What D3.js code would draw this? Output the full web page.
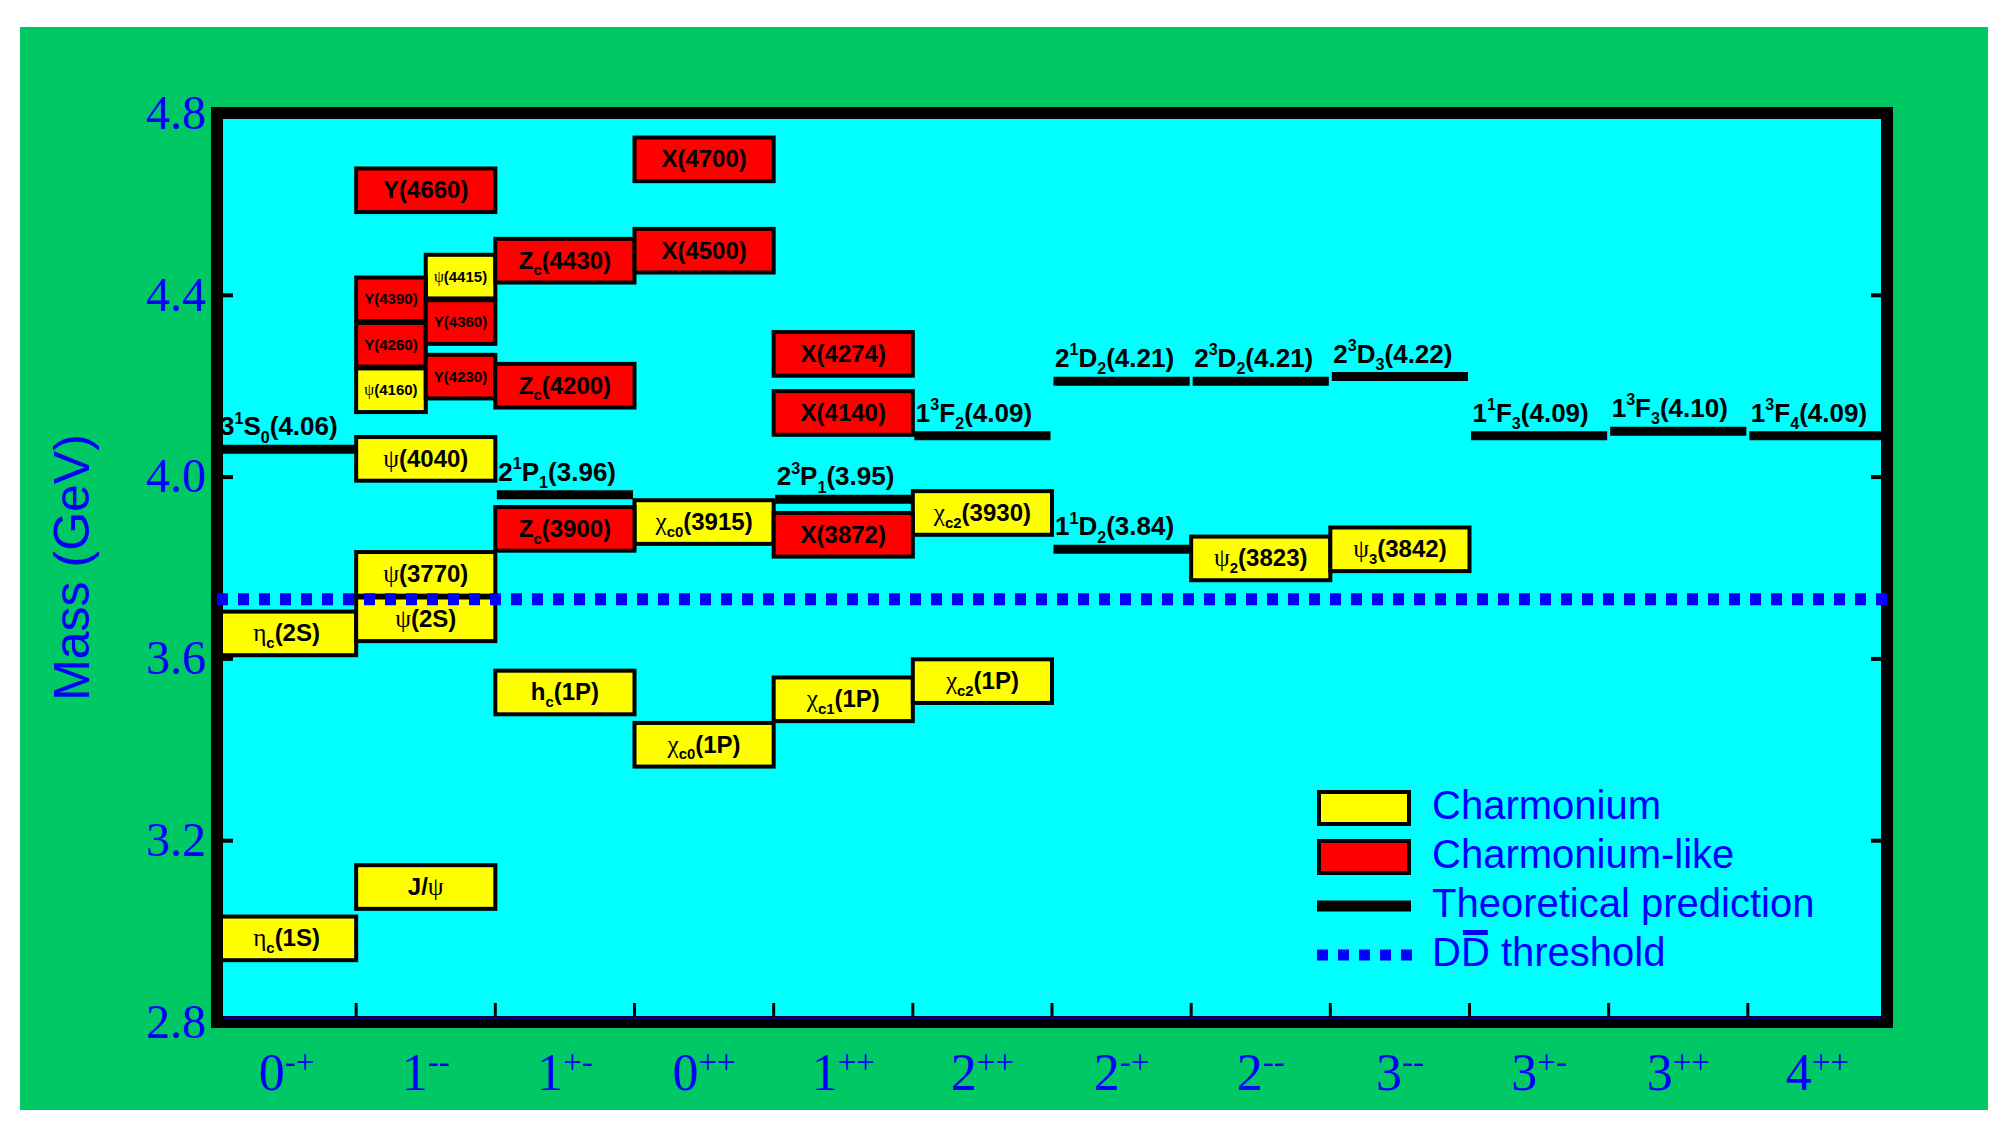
<!DOCTYPE html>
<html>
<head>
<meta charset="utf-8">
<script src="https://cdn.jsdelivr.net/npm/d3@7"></script>
<style>
  body { margin: 0; background: #fff; overflow: hidden; }
</style>
</head>
<body>
<svg id="chart"></svg>
<script>
const width = 2014, height = 1133;
const sans = '"Liberation Sans", Arial, Helvetica, sans-serif';
const serif = '"Liberation Serif", "Times New Roman", serif';

// J^PC columns of the spectrum
const jpcNum = ["0", "1", "1", "0", "1", "2", "2", "2", "3", "3", "3", "4"];
const jpcSup = ["-+", "--", "+-", "++", "++", "++", "-+", "--", "--", "+-", "++", "++"];
const columns = jpcNum.map((n, i) => n + jpcSup[i]);

const yTicks = [2.8, 3.2, 3.6, 4.0, 4.4, 4.8];

// observed states: label, J^PC, mass (GeV), half of column (0 whole, 1 left, 2 right)
const charmonium = [
  ["η_{c}(1S)", "0-+", 2.984, 0],
  ["η_{c}(2S)", "0-+", 3.655, 0],
  ["J/ψ", "1--", 3.097, 0],
  ["ψ(2S)", "1--", 3.686, 0],
  ["ψ(3770)", "1--", 3.786, 0],
  ["ψ(4040)", "1--", 4.039, 0],
  ["ψ(4160)", "1--", 4.19, 1],
  ["ψ(4415)", "1--", 4.44, 2],
  ["h_{c}(1P)", "1+-", 3.525, 0],
  ["χ_{c0}(1P)", "0++", 3.41, 0],
  ["χ_{c0}(3915)", "0++", 3.90, 0],
  ["χ_{c1}(1P)", "1++", 3.51, 0],
  ["χ_{c2}(1P)", "2++", 3.55, 0],
  ["χ_{c2}(3930)", "2++", 3.92, 0],
  ["ψ_{2}(3823)", "2--", 3.82, 0],
  ["ψ_{3}(3842)", "3--", 3.84, 0]
];

const charmoniumLike = [
  ["Y(4260)", "1--", 4.29, 1],
  ["Y(4390)", "1--", 4.39, 1],
  ["Y(4230)", "1--", 4.22, 2],
  ["Y(4360)", "1--", 4.34, 2],
  ["Y(4660)", "1--", 4.63, 0],
  ["Z_{c}(3900)", "1+-", 3.885, 0],
  ["Z_{c}(4200)", "1+-", 4.20, 0],
  ["Z_{c}(4430)", "1+-", 4.475, 0],
  ["X(4500)", "0++", 4.497, 0],
  ["X(4700)", "0++", 4.698, 0],
  ["X(3872)", "1++", 3.872, 0],
  ["X(4140)", "1++", 4.14, 0],
  ["X(4274)", "1++", 4.27, 0]
];

// theoretical predictions: label, J^PC, mass (GeV)
const predictions = [
  ["3^{1}S_{0}(4.06)", "0-+", 4.06],
  ["2^{1}P_{1}(3.96)", "1+-", 3.96],
  ["2^{3}P_{1}(3.95)", "1++", 3.95],
  ["1^{3}F_{2}(4.09)", "2++", 4.09],
  ["2^{1}D_{2}(4.21)", "2-+", 4.21],
  ["1^{1}D_{2}(3.84)", "2-+", 3.84],
  ["2^{3}D_{2}(4.21)", "2--", 4.21],
  ["2^{3}D_{3}(4.22)", "3--", 4.22],
  ["1^{1}F_{3}(4.09)", "3+-", 4.09],
  ["1^{3}F_{3}(4.10)", "3++", 4.10],
  ["1^{3}F_{4}(4.09)", "4++", 4.09]
];

const ddThreshold = 3.73;
const legendLabels = ["Charmonium", "Charmonium-like", "Theoretical prediction", "DD threshold"];

const svg = d3.select("#chart").attr("width", width).attr("height", height);

const x = d3.scaleBand().domain(columns).range([217, 1887]);
const y = d3.scaleLinear().domain([2.8, 4.8]).range([1022, 113]);
const bw = x.bandwidth();

// page background
svg.append("rect").attr("x", 20).attr("y", 27).attr("width", 1968).attr("height", 1083)
  .attr("fill", "#00c864");
svg.append("rect").attr("x", 217).attr("y", 113).attr("width", 1670).attr("height", 909)
  .attr("fill", "#00ffff");

// text with _{sub}, ^{sup} and greek letters in a serif face
const greek = /([ψχη])/;
function rich(sel, str, size) {
  const parts = str.match(/[_^]\{[^}]*\}|[^_^]+/g);
  let cur = 0;
  parts.forEach(p => {
    const kind = p[0] === "_" ? "sub" : p[0] === "^" ? "sup" : "";
    const body = kind ? p.slice(2, -1) : p;
    const fs = kind ? size * 0.62 : size;
    const target = kind === "sub" ? size * 0.28 : kind === "sup" ? -size * 0.45 : 0;
    body.split(greek).filter(s => s.length).forEach((chunk, j) => {
      const t = sel.append("tspan").attr("font-size", fs).text(chunk);
      if (j === 0) { t.attr("dy", target - cur); cur = target; }
      if (greek.test(chunk)) {
        t.attr("font-family", serif).attr("font-weight", "normal").attr("font-size", fs * 1.05);
      }
    });
  });
}

function boxX(d) { return x(d[1]) + (d[3] === 2 ? bw / 2 : 0); }
function boxW(d) { return d[3] ? bw / 2 : bw; }
const half = 0.048;

function drawBoxes(data, color) {
  const g = svg.append("g");
  g.selectAll("rect").data(data).join("rect")
    .attr("x", boxX)
    .attr("y", d => y(d[2] + half))
    .attr("width", boxW)
    .attr("height", d => y(d[2] - half) - y(d[2] + half))
    .attr("fill", color).attr("stroke", "#000").attr("stroke-width", 4);
  g.selectAll("text").data(data).join("text")
    .attr("x", d => boxX(d) + boxW(d) / 2)
    .attr("y", d => y(d[2]) + (d[3] ? 15 : 24) * 0.33)
    .attr("text-anchor", "middle")
    .attr("font-family", sans).attr("font-weight", "bold")
    .each(function(d) { rich(d3.select(this), d[0], d[3] ? 15 : 24); });
}
drawBoxes(charmonium, "#ffff00");
drawBoxes(charmoniumLike, "#ff0000");

// theoretical levels
const th = svg.append("g");
th.selectAll("line").data(predictions).join("line")
  .attr("x1", d => x(d[1]) + 1.5).attr("x2", d => x(d[1]) + bw - 1.5)
  .attr("y1", d => y(d[2])).attr("y2", d => y(d[2]))
  .attr("stroke", "#000").attr("stroke-width", 9);
th.selectAll("text").data(predictions).join("text")
  .attr("x", d => x(d[1]) + 3)
  .attr("y", d => y(d[2]) - 14)
  .attr("font-family", sans).attr("font-weight", "bold")
  .each(function(d) { rich(d3.select(this), d[0], 26); });

// frame
svg.append("rect").attr("x", 217).attr("y", 113).attr("width", 1670).attr("height", 909)
  .attr("fill", "none").attr("stroke", "#000").attr("stroke-width", 12);

// y axis (ticks inside, labels outside)
const gy = svg.append("g").attr("transform", "translate(217,0)")
  .call(d3.axisLeft(y).tickValues(yTicks).tickFormat(d3.format(".1f")).tickSize(-16).tickPadding(11));
gy.select(".domain").remove();
gy.attr("font-family", serif).attr("font-size", 48).attr("color", "#000");
gy.selectAll("line").attr("stroke-width", 4);
gy.selectAll("text").attr("fill", "#0000ff");

const gyr = svg.append("g").attr("transform", "translate(1887,0)")
  .call(d3.axisRight(y).tickValues(yTicks.slice(1, -1)).tickFormat("").tickSize(-16));
gyr.select(".domain").remove();
gyr.attr("color", "#000").selectAll("line").attr("stroke-width", 4);

// x axis: labels at band centres, ticks on band edges
const gx = svg.append("g").attr("transform", "translate(0,1022)")
  .call(d3.axisBottom(x).tickSize(0).tickPadding(31).tickFormat(""));
gx.select(".domain").remove();
gx.attr("font-family", serif).attr("font-size", 52);
gx.selectAll(".tick text").attr("fill", "#0000ff").each(function(d, i) {
  const t = d3.select(this);
  t.append("tspan").text(jpcNum[i]);
  t.append("tspan").attr("font-size", 33).attr("dy", -17).text(jpcSup[i]);
});

svg.append("line").attr("x1", 223).attr("x2", 1881).attr("y1", 1018).attr("y2", 1018)
  .attr("stroke", "#000080").attr("stroke-width", 3);
svg.append("g").selectAll("line").data(columns.slice(1)).join("line")
  .attr("x1", d => x(d)).attr("x2", d => x(d))
  .attr("y1", 1003).attr("y2", 1017)
  .attr("stroke", "#000").attr("stroke-width", 3);

// D Dbar threshold
svg.append("line").attr("x1", 217).attr("x2", 1887)
  .attr("y1", y(ddThreshold)).attr("y2", y(ddThreshold))
  .attr("stroke", "#0000ff").attr("stroke-width", 12).attr("stroke-dasharray", "11,10");

// y title
svg.append("text").attr("transform", `translate(89,${y(3.8)}) rotate(-90)`)
  .attr("text-anchor", "middle").attr("font-family", sans).attr("font-size", 50)
  .attr("fill", "#0000ff").text("Mass (GeV)");

// legend
const lg = svg.append("g").attr("transform", "translate(1317,808)");
const rowH = 49;
lg.append("rect").attr("x", 2).attr("y", -16).attr("width", 90).attr("height", 32)
  .attr("fill", "#ffff00").attr("stroke", "#000").attr("stroke-width", 4);
lg.append("rect").attr("x", 2).attr("y", rowH - 16).attr("width", 90).attr("height", 32)
  .attr("fill", "#ff0000").attr("stroke", "#000").attr("stroke-width", 4);
lg.append("line").attr("x1", 0).attr("x2", 94).attr("y1", 2 * rowH).attr("y2", 2 * rowH)
  .attr("stroke", "#000").attr("stroke-width", 11);
lg.append("line").attr("x1", 0).attr("x2", 95).attr("y1", 3 * rowH).attr("y2", 3 * rowH)
  .attr("stroke", "#0000ff").attr("stroke-width", 11).attr("stroke-dasharray", "11,10");
const lt = lg.selectAll("text").data(legendLabels).join("text")
  .attr("x", 115).attr("y", (d, i) => i * rowH + 11)
  .attr("font-family", sans).attr("font-size", 40).attr("fill", "#0000ff")
  .text(d => d);
// bar over the second D
const ddNode = lt.filter((d, i) => i === 3).node();
const ext = ddNode.getExtentOfChar(1);
lg.append("rect").attr("x", ext.x + 2).attr("y", 3 * rowH + 11 - 36)
  .attr("width", ext.width - 4).attr("height", 5).attr("fill", "#0000ff");
</script>
</body>
</html>
